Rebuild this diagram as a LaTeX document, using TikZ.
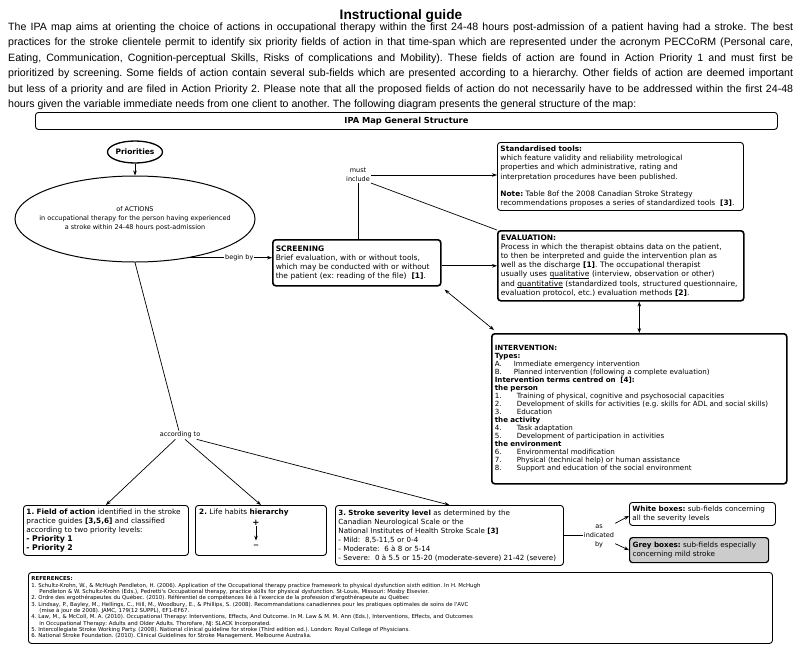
\documentclass[tikz,border=0pt]{standalone}
\usepackage{fontspec}
\setmainfont{Liberation Sans}
\newfontfamily\dv{DejaVu Sans}
\usetikzlibrary{arrows.meta,shapes.geometric}
\newcommand{\lettm}[2]{\makebox[19pt][l]{#1}#2}
\newcommand{\numitm}[2]{\makebox[22pt][l]{#1}#2}
\newcommand{\ulin}[1]{\setbox0\hbox{#1}\rlap{\rule[-1.3pt]{\wd0}{0.45pt}}#1}
\tikzset{
  arr/.style={line width=0.7pt, -{Stealth[length=5pt,width=3.6pt]}},
  darr/.style={line width=0.7pt, {Stealth[length=5pt,width=3.6pt]}-{Stealth[length=5pt,width=3.6pt]}},
  conn/.style={line width=0.7pt},
  bx/.style={draw, rounded corners=3pt, line width=0.9pt, anchor=north west, align=left,
     inner xsep=3pt, inner ysep=2pt, font=\dv\fontsize{7.3}{9}\selectfont},
  tbx/.style={bx, line width=1.6pt},
  lbl/.style={font=\dv\fontsize{6.5}{9}\selectfont, align=center, inner sep=1pt},
  para/.style={anchor=base west, inner sep=0pt, font=\fontsize{10.6}{13}\selectfont},
}
\begin{document}
\frenchspacing
\begin{tikzpicture}[x=1pt,y=-1pt]
\useasboundingbox (0,0) rectangle (800,653);
% header
\node[font=\bfseries\fontsize{13.7}{16}\selectfont, inner sep=0pt] (title) at (401,16) {Instructional guide};
\node[para] (p1) at (8,30) {\hbox to 785pt{The IPA map aims at orienting the choice of actions in occupational therapy within the first 24-48 hours post-admission of a patient having had a stroke. The best}};
\node[para] (p2) at (8,45.5) {\hbox to 785pt{practices for the stroke clientele permit to identify six priority fields of action in that time-span which are represented under the acronym PECCoRM (Personal care,}};
\node[para] (p3) at (8,61) {\hbox to 785pt{Eating, Communication, Cognition-perceptual Skills, Risks of complications and Mobility). These fields of action are found in Action Priority 1 and must first be}};
\node[para] (p4) at (8,76.5) {\hbox to 785pt{prioritized by screening. Some fields of action contain several sub-fields which are presented according to a hierarchy. Other fields of action are deemed important}};
\node[para] (p5) at (8,92) {\hbox to 785pt{but less of a priority and are filed in Action Priority 2. Please note that all the proposed fields of action do not necessarily have to be addressed within the first 24-48}};
\node[para] (p6) at (8,107.5) {hours given the variable immediate needs from one client to another. The following diagram presents the general structure of the map:};

% map title bar
\node[bx, text width=736pt, minimum height=17pt, align=center, font=\dv\bfseries\fontsize{8.3}{9}\selectfont] (ttl) at (35,112) {IPA Map General Structure};

% priorities
\node[draw, ellipse, line width=1.3pt, minimum width=52pt, minimum height=22pt, inner sep=0pt, font=\dv\bfseries\fontsize{7.5}{8}\selectfont] (prio) at (135,152) {Priorities};
\node[draw, ellipse, line width=1pt, minimum width=240pt, minimum height=86pt, inner sep=0pt] (act) at (135,219) {};
\node[lbl] (acttxt) at (act.center) {of ACTIONS\\in occupational therapy for the person having experienced\\a stroke within 24-48 hours post-admission};
\draw[arr] (prio) -- (act);

% screening
\node[tbx, text width=162pt, minimum height=46pt, font=\dv\fontsize{7.5}{9}\selectfont] (scr) at (272,239) {\textbf{SCREENING}\\Brief evaluation, with or without tools,\\which may be conducted with or without\\the patient (ex: reading of the file)\ \ \textbf{[1]}.};

% standardised tools
\node[bx, text width=240pt, minimum height=68pt, font=\dv\fontsize{7.4}{9.3}\selectfont] (std) at (497,142) {\textbf{Standardised tools:}\\which feature validity and reliability metrological\\properties and which administrative, rating and\\interpretation procedures have been published.\\[8pt]\textbf{Note:} Table 8of the 2008 Canadian Stroke Strategy\\recommendations proposes a series of standardized tools\ \ \textbf{[3]}.};

% evaluation
\node[tbx, text width=240pt, minimum height=70pt, font=\dv\fontsize{7.5}{9.1}\selectfont] (eval) at (497,230) {\textbf{EVALUATION:}\\Process in which the therapist obtains data on the patient,\\to then be interpreted and guide the intervention plan as\\well as the discharge \textbf{[1]}. The occupational therapist\\usually uses \ulin{qualitative} (interview, observation or other)\\and \ulin{quantitative} (standardized tools, structured questionnaire,\\evaluation protocol, etc.) evaluation methods \textbf{[2]}.};

% intervention
\node[tbx, text width=289pt, minimum height=150pt, font=\dv\fontsize{7.1}{8}\selectfont] (intv) at (491,333) {\textbf{INTERVENTION:}\\\textbf{Types:}\\\lettm{A.}{Immediate emergency intervention}\\\lettm{B.}{Planned intervention (following a complete evaluation)}\\\textbf{Intervention terms centred on\ \ [4]:}\\\textbf{the person}\\\numitm{1.}{Training of physical, cognitive and psychosocial capacities}\\\numitm{2.}{Development of skills for activities (e.g. skills for ADL and social skills)}\\\numitm{3.}{Education}\\\textbf{the activity}\\\numitm{4.}{Task adaptation}\\\numitm{5.}{Development of participation in activities}\\\textbf{the environment}\\\numitm{6.}{Environmental modification}\\\numitm{7.}{Physical (technical help) or human assistance}\\\numitm{8.}{Support and education of the social environment}};

% must include
\node[lbl] (must) at (358,175) {must\\include};
\draw[conn] (must.south) -- (must.south |- scr.north);
\draw[arr] (must.east) -- (std.west |- must.east);
\draw[conn] (must.south east) -- (eval.north west);

% begin by
\draw[arr] (act.-35) -- node[lbl, fill=white, pos=0.6] (beg) {begin by} (scr.west |- act.-35);
\coordinate (scrout) at ([yshift=-3pt]scr.east);
\draw[arr] (scrout) -- (eval.west |- scrout);
\draw[darr] ([xshift=3pt,yshift=-3pt]scr.south east) -- ([xshift=3pt,yshift=3pt]intv.north west);
\draw[darr] (intv.north |- eval.south) -- (intv.north);

% bottom boxes
\node[bx, text width=159pt, minimum height=50pt] (b1) at (23,505) {\textbf{1. Field of action} identified in the stroke\\practice guides \textbf{[3,5,6]} and classified\\according to two priority levels:\\{\bfseries\fontsize{7.8}{9}\selectfont - Priority 1}\\{\bfseries\fontsize{7.8}{9}\selectfont - Priority 2}};
\node[bx, minimum width=131pt, minimum height=50pt] (b2) at (195,505) {};
\node[anchor=north west, inner sep=1pt, font=\dv\fontsize{7.3}{9}\selectfont] (b2t) at ([xshift=3pt,yshift=-3pt]b2.north west) {\textbf{2.} Life habits \textbf{hierarchy}};
\node[inner sep=0.5pt, font=\dv\bfseries\fontsize{8.5}{9}\selectfont] (plus) at (256,523) {+};
\node[inner sep=0.5pt, font=\dv\fontsize{11}{11}\selectfont] (minus) at (256,547) {\textendash};
\draw[arr, line width=0.9pt] (plus) -- ([yshift=4pt]minus.north);
\node[bx, text width=222pt, minimum height=60pt, font=\dv\fontsize{7.1}{9}\selectfont] (b3) at (335,505) {\textbf{3. Stroke severity level} as determined by the\\Canadian Neurological Scale or the\\National Institutes of Health Stroke Scale \textbf{[3]}\\- Mild:\ \ 8,5-11,5 or 0-4\\- Moderate:\ \ 6 à 8 or 5-14\\- Severe:\ \ 0 à 5.5 or 15-20 (moderate-severe) 21-42 (severe)};

% according to
\node[lbl] (acc) at (180,435) {according to};
\draw[conn] (act.south) -- (acc);
\draw[arr] (acc) -- (b1.north);
\draw[arr] (acc) -- (b2.north);
\draw[arr] (acc) -- (b3.north);

% legend
\node[lbl] (ind) at (599,536) {as\\indicated\\by};
\draw[conn] (b3.east) -- (b3.east -| ind.west);
\node[bx, text width=140pt, minimum height=23pt, font=\dv\fontsize{7.2}{8.5}\selectfont] (wb) at (629,502) {\textbf{White boxes:} sub-fields concerning\\all the severity levels};
\node[bx, fill=gray!40, line width=1.2pt, text width=133pt, minimum height=25pt, font=\dv\fontsize{7.2}{8.5}\selectfont] (gb) at (629,537) {\textbf{Grey boxes:} sub-fields especially\\concerning mild stroke};
\coordinate (wbin) at ([yshift=-2pt]wb.west);
\coordinate (indlo) at ([yshift=5pt]ind.south east);
\draw[arr] (ind.north east) -- (wbin);
\draw[arr] (indlo) -- (gb.west);

% references
\node[bx, text width=738pt, minimum height=71pt, font=\dv\fontsize{5.4}{6.33}\selectfont] (refs) at (28,572) {\textbf{REFERENCES:}\\1. Schultz-Krohn, W., \& McHugh Pendleton, H. (2006). Application of the Occupational therapy practice framework to physical dysfunction sixth edition. In H. McHugh\\\hspace*{8pt}Pendleton \& W. Schultz-Krohn (Eds.), Pedretti's Occupational therapy, practice skills for physical dysfunction. St-Louis, Missouri: Mosby Elsevier.\\2. Ordre des ergothérapeutes du Québec. (2010). Référentiel de compétences lié à l'exercice de la profession d'ergothérapeute au Québec\\3. Lindsay, P., Bayley, M., Hellings, C., Hill, M., Woodbury, E., \& Phillips, S. (2008). Recommandations canadiennes pour les pratiques optimales de soins de l'AVC\\\hspace*{8pt}(mise à jour de 2008). JAMC, 179(12 SUPPL), EF1-EF67.\\4. Law, M., \& McColl, M. A. (2010). Occupational Therapy: Interventions, Effects, And Outcome. In M. Law \& M. M. Ann (Eds.), Interventions, Effects, and Outcomes\\\hspace*{8pt}in Occupational Therapy: Adults and Older Adults. Thorofare, NJ: SLACK Incorporated.\\5. Intercollegiate Stroke Working Party. (2008). National clinical guideline for stroke (Third edition ed.). London: Royal College of Physicians.\\6. National Stroke Foundation. (2010). Clinical Guidelines for Stroke Management. Melbourne Australia.};
\end{tikzpicture}
\end{document}
